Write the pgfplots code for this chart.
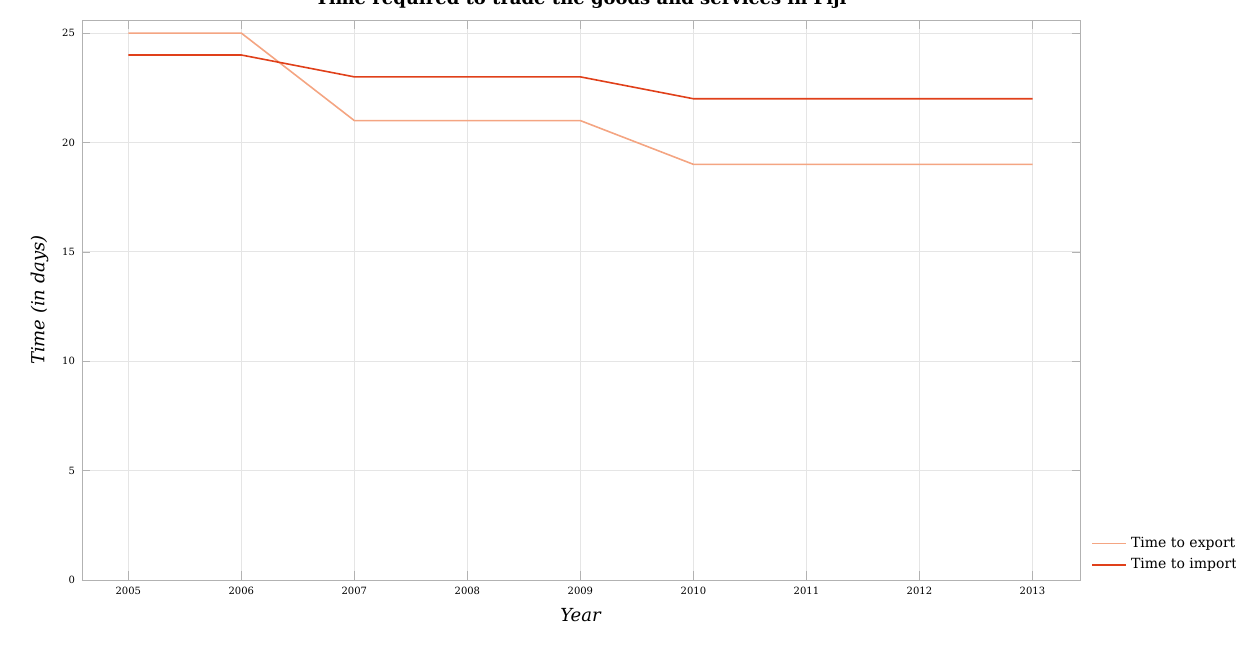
\documentclass[border=0pt]{standalone}
\usepackage{pgfplots}
\pgfplotsset{compat=1.18}
\usepackage{fontspec}
\setmainfont{DejaVu Serif}
\definecolor{exp}{HTML}{F4A582}
\definecolor{imp}{HTML}{E0401A}
\begin{document}
\begin{tikzpicture}
\path[use as bounding box] (-41pt,-35pt) rectangle (577pt,290pt);
\begin{axis}[
scale only axis, width=499pt, height=280pt,
xmin=2004.59, xmax=2013.42, ymin=0, ymax=25.6,
xtick={2005,...,2013}, ytick={0,5,10,15,20,25},
xticklabel style={/pgf/number format/1000 sep=},
/pgf/number format/assume math mode=true,
tick label style={font=\tiny},
grid=major, grid style={gray!20},
axis line style={gray!60}, tick style={gray!60},
xlabel={\textit{Year}}, ylabel={\textit{Time (in days)}},
label style={font=\small},
title={\textbf{Time required to trade the goods and services in Fiji}},
title style={font=\small, yshift=-4pt},
legend style={draw=none, font=\scriptsize, at={(1.005,0)}, anchor=south west, fill=none},
legend cell align=left,
]
\addplot[exp, thick] coordinates {(2005,25)(2006,25)(2007,21)(2008,21)(2009,21)(2010,19)(2011,19)(2012,19)(2013,19)};
\addplot[imp, thick] coordinates {(2005,24)(2006,24)(2007,23)(2008,23)(2009,23)(2010,22)(2011,22)(2012,22)(2013,22)};
\legend{Time to export, Time to import}
\end{axis}
\end{tikzpicture}
\end{document}
